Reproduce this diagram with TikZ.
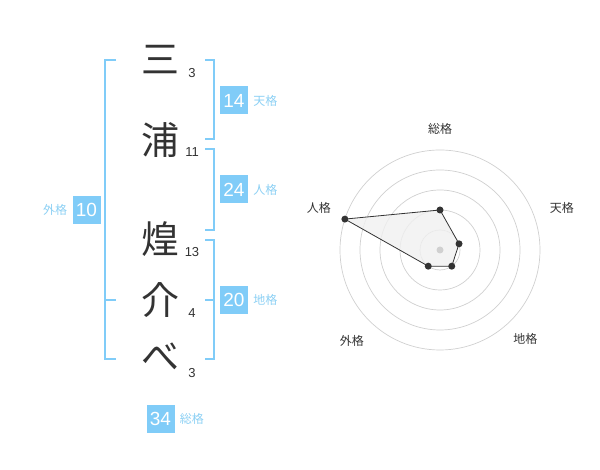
\documentclass[tikz,border=0pt]{standalone}
\usepackage{fontspec}
\newfontfamily\jp{Noto Sans CJK JP}
\newfontfamily\num{Liberation Sans}
\definecolor{kakublue}{RGB}{128,204,248}
\definecolor{kakutext}{RGB}{140,208,244}
\definecolor{ink}{RGB}{51,51,51}
\definecolor{ring}{RGB}{208,208,208}
\tikzset{
  kanji/.style={font=\jp\fontsize{38}{38}\selectfont, text=ink, inner sep=0pt},
  kaku/.style={font=\num\fontsize{13}{13}\selectfont, text=ink, inner sep=0pt},
  kakubox/.style={fill=kakublue, text=white, minimum width=28pt, minimum height=28pt, inner sep=0pt, font=\num\fontsize{19}{19}\selectfont},
  kakulabel/.style={font=\jp\fontsize{12}{12}\selectfont, text=kakutext, inner sep=0pt, anchor=west},
  bracket/.style={kakublue, line width=2pt},
  radarlabel/.style={font=\jp\fontsize{12}{12}\selectfont, text=ink, inner sep=0pt},
  dot/.style={circle, fill=ink, inner sep=0pt, minimum size=7pt}
}
\begin{document}
\begin{tikzpicture}[x=1pt, y=1pt]
\useasboundingbox (0,0) rectangle (600,470);
% name
\node[kanji] (c1) at (160,410) {三};
\node[kanji] (c2) at (160,330) {浦};
\node[kanji] (c3) at (160,231) {煌};
\node[kanji] (c4) at (160,170) {介};
\node[kanji] (c5) at (160,113) {べ};
\node[kaku] (k1) at (192,397) {3};
\node[kaku] (k2) at (192,318) {11};
\node[kaku] (k3) at (192,218) {13};
\node[kaku] (k4) at (192,157) {4};
\node[kaku] (k5) at (192,97) {3};
% brackets
\draw[bracket] (116,410) -- (105,410) -- (105,111) -- (116,111);
\draw[bracket] (105,170) -- (116,170);
\draw[bracket] (205,410) -- (214,410) -- (214,331) -- (205,331);
\draw[bracket] (205,321) -- (214,321) -- (214,240) -- (205,240);
\draw[bracket] (205,230) -- (214,230) -- (214,111) -- (205,111);
\draw[bracket] (205,170) -- (214,170);
% scores
\node[kakubox] (ten) at (234,369.5) {14};
\node[kakulabel] (tenl) at ([xshift=5pt]ten.east) {天格};
\node[kakubox] (jin) at (234,280.5) {24};
\node[kakulabel] (jinl) at ([xshift=5pt]jin.east) {人格};
\node[kakubox] (chi) at (234,170) {20};
\node[kakulabel] (chil) at ([xshift=5pt]chi.east) {地格};
\node[kakubox] (gai) at (86.5,260) {10};
\node[kakulabel, anchor=east] (gail) at ([xshift=-5pt]gai.west) {外格};
\node[kakubox] (sou) at (160.5,51) {34};
\node[kakulabel] (soul) at ([xshift=5pt]sou.east) {総格};
% radar
\begin{scope}[shift={(440,220)}]
\foreach \r in {20,40,60,80,100}
  \draw[ring, line width=0.7pt] (0,0) circle (\r);
\coordinate (psou) at (90:40);
\coordinate (pten) at (18:20);
\coordinate (pchi) at (-54:20);
\coordinate (pgai) at (-126:20);
\coordinate (pjin) at (162:100);
\filldraw[fill=black!6, fill opacity=0.8, draw=ink, line width=0.8pt]
  (psou) -- (pten) -- (pchi) -- (pgai) -- (pjin) -- cycle;
\fill[ring] (0,0) circle (3.5);
\foreach \p in {psou,pten,pchi,pgai,pjin}
  \node[dot] at (\p) {};
\node[radarlabel] (rsou) at (90:121) {総格};
\node[radarlabel] (rten) at (19:129) {天格};
\node[radarlabel] (rchi) at (-46:123) {地格};
\node[radarlabel] (rgai) at (-134:127) {外格};
\node[radarlabel] (rjin) at (161:128) {人格};
\end{scope}
\end{tikzpicture}
\end{document}
